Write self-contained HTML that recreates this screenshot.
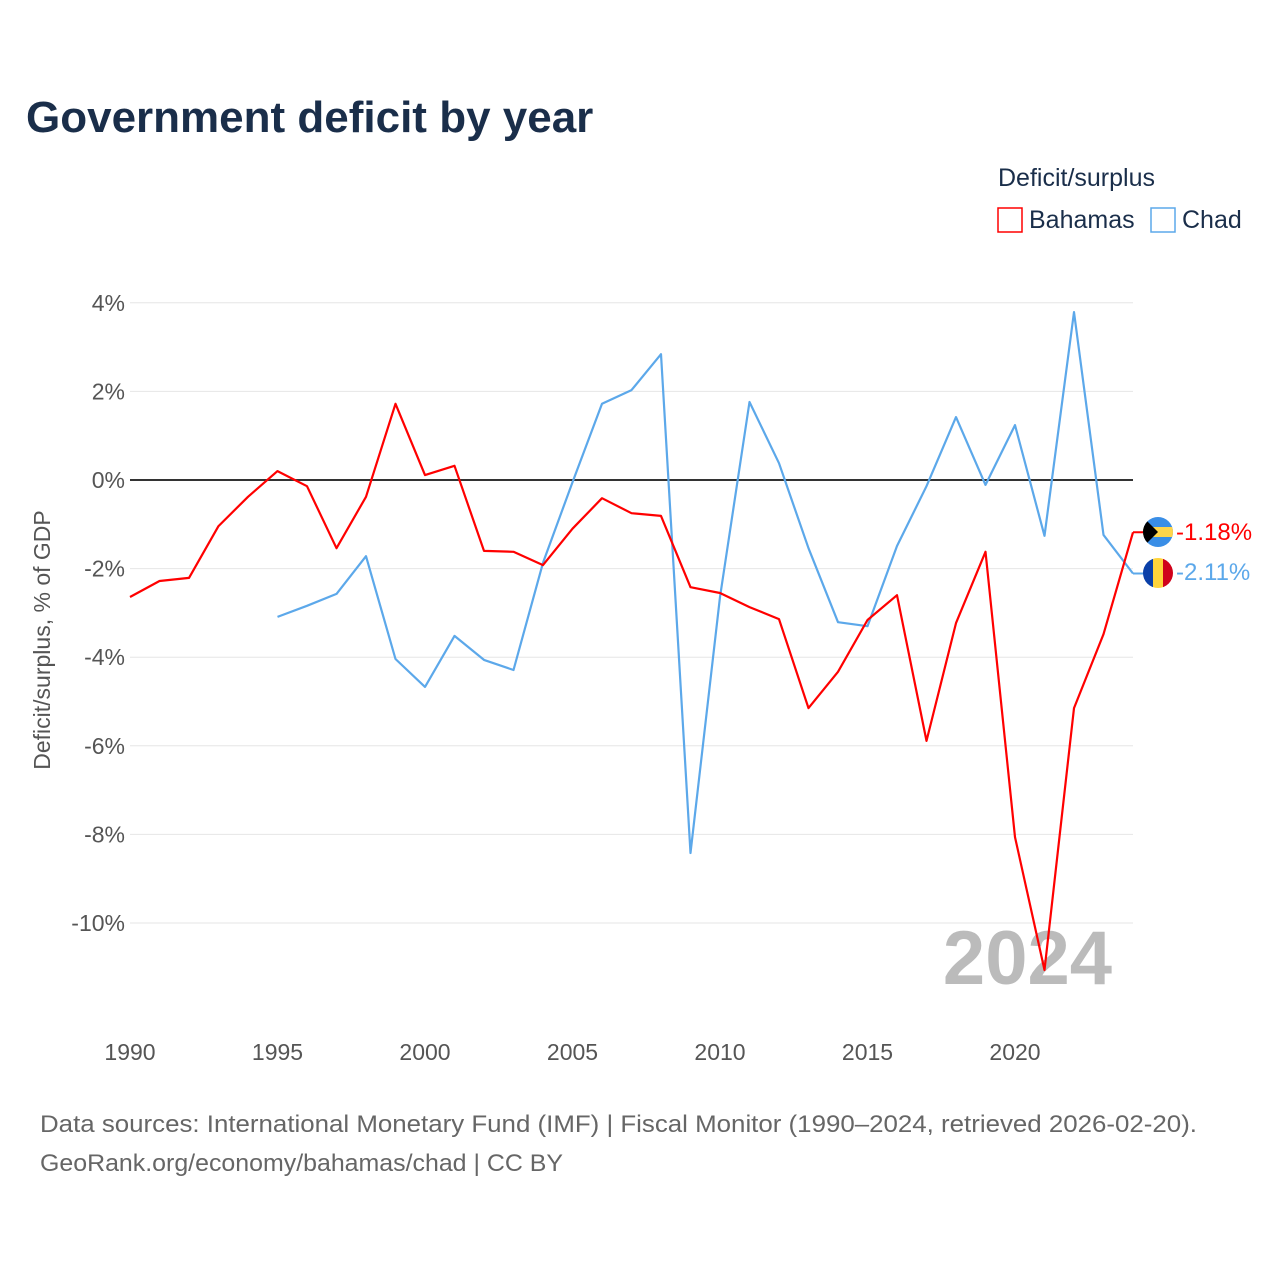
<!DOCTYPE html>
<html><head><meta charset="utf-8"><style>
body{margin:0;background:#fff;font-family:"Liberation Sans",sans-serif}
svg text{font-family:"Liberation Sans",sans-serif}
</style></head><body>
<svg width="1280" height="1280" xmlns="http://www.w3.org/2000/svg">
<text x="26" y="132" font-size="44" font-weight="bold" fill="#1a2e4a">Government deficit by year</text>
<text x="998" y="186" font-size="25" fill="#1a2e4a">Deficit/surplus</text>
<g><rect x="998" y="208" width="24" height="24" fill="none" stroke="#ff0000" stroke-width="1.5"/><text x="1029" y="228" font-size="25" fill="#1a2e4a">Bahamas</text></g>
<g><rect x="1151" y="208" width="24" height="24" fill="none" stroke="#5ca8ea" stroke-width="1.5"/><text x="1182" y="228" font-size="25" fill="#1a2e4a">Chad</text></g>
<g id="grid"></g>
<g id="yt"></g>
<g id="xt"></g>
<text transform="translate(50,640) rotate(-90)" text-anchor="middle" font-size="23" fill="#555">Deficit/surplus, % of GDP</text>
<text x="1112" y="984" text-anchor="end" font-size="76" font-weight="bold" fill="#bbbbbb">2024</text>
<g id="lines"></g>
<g>
<g>
<clipPath id="c1"><circle cx="1158" cy="532" r="15"/></clipPath>
<g clip-path="url(#c1)"><rect x="1143" y="517" width="30" height="30" fill="#3a8ee6"/><rect x="1143" y="527" width="30" height="10" fill="#ffd54a"/><polygon points="1143,517 1158,532 1143,547" fill="#000"/></g></g>
<g>
<clipPath id="c2"><circle cx="1158" cy="573" r="15"/></clipPath>
<g clip-path="url(#c2)"><rect x="1143" y="558" width="10" height="30" fill="#0a3fa8"/><rect x="1153" y="558" width="10" height="30" fill="#ffd43b"/><rect x="1163" y="558" width="10" height="30" fill="#d0021b"/></g></g>
<text x="1176" y="540" font-size="24" fill="#ff0000">-1.18%</text>
<text x="1176" y="580" font-size="24" fill="#5ca8ea">-2.11%</text>
</g>
<text x="40" y="1132" font-size="24" fill="#666" textLength="1157" lengthAdjust="spacingAndGlyphs">Data sources: International Monetary Fund (IMF) | Fiscal Monitor (1990–2024, retrieved 2026-02-20).</text>
<text x="40" y="1171" font-size="24" fill="#666" textLength="523" lengthAdjust="spacingAndGlyphs">GeoRank.org/economy/bahamas/chad | CC BY</text>
</svg>
<script>
const years=[];for(let y=1990;y<=2024;y++)years.push(y);
const bahamas=[-2.64,-2.28,-2.21,-1.04,-0.38,0.2,-0.14,-1.54,-0.38,1.72,0.11,0.32,-1.6,-1.62,-1.92,-1.1,-0.41,-0.75,-0.81,-2.42,-2.55,-2.87,-3.14,-5.15,-4.33,-3.16,-2.6,-5.89,-3.23,-1.62,-8.06,-11.06,-5.15,-3.48,-1.18];
const chad=[null,null,null,null,null,-3.09,-2.84,-2.57,-1.72,-4.04,-4.67,-3.52,-4.06,-4.29,-1.87,-0.05,1.72,2.03,2.84,-8.42,-2.64,1.76,0.38,-1.54,-3.21,-3.3,-1.49,-0.14,1.42,-0.11,1.24,-1.26,3.79,-1.24,-2.11];
const yTicks=[4,2,0,-2,-4,-6,-8,-10];
const xTicks=[1990,1995,2000,2005,2010,2015,2020];
const NS="http://www.w3.org/2000/svg";
const X=y=>130+(y-1990)*(1133-130)/34;
const Y=v=>480-v*44.3;
function mk(t,a,p){const e=document.createElementNS(NS,t);for(const k in a)e.setAttribute(k,a[k]);document.getElementById(p).appendChild(e);return e;}
yTicks.forEach(v=>{
 const l=mk('line',{x1:130,x2:1133,y1:Y(v),y2:Y(v),stroke:v===0?'#333':'#e6e6e6','stroke-width':v===0?2:1},'grid');
 
 
 const t=mk('text',{x:125,y:Y(v)+8,'text-anchor':'end','font-size':23,fill:'#555'},'yt');
 t.textContent=v+'%';
 
 
});
xTicks.forEach(v=>{
 const t=mk('text',{x:X(v),y:1060,'text-anchor':'middle','font-size':23,fill:'#555'},'xt');
 t.textContent=v;
 
 
});
function line(vals,color,name){
 let d='';vals.forEach((v,i)=>{if(v===null)return;d+=(d?'L':'M')+X(years[i]).toFixed(1)+','+Y(v).toFixed(1);});
 const p=mk('path',{d:d,fill:'none',stroke:color,'stroke-width':2.2,'stroke-linejoin':'round'},'lines');
 
 
}
line(chad,'#5ca8ea','line-chad');
line(bahamas,'#ff0000','line-bahamas');
const c1=mk('path',{d:'M'+X(2024)+','+Y(-1.18)+'H1150',stroke:'#ff0000','stroke-width':2,fill:'none'},'lines');


const c2=mk('path',{d:'M'+X(2024)+','+Y(-2.11)+'H1150',stroke:'#5ca8ea','stroke-width':2,fill:'none'},'lines');


</script>
</body></html>
